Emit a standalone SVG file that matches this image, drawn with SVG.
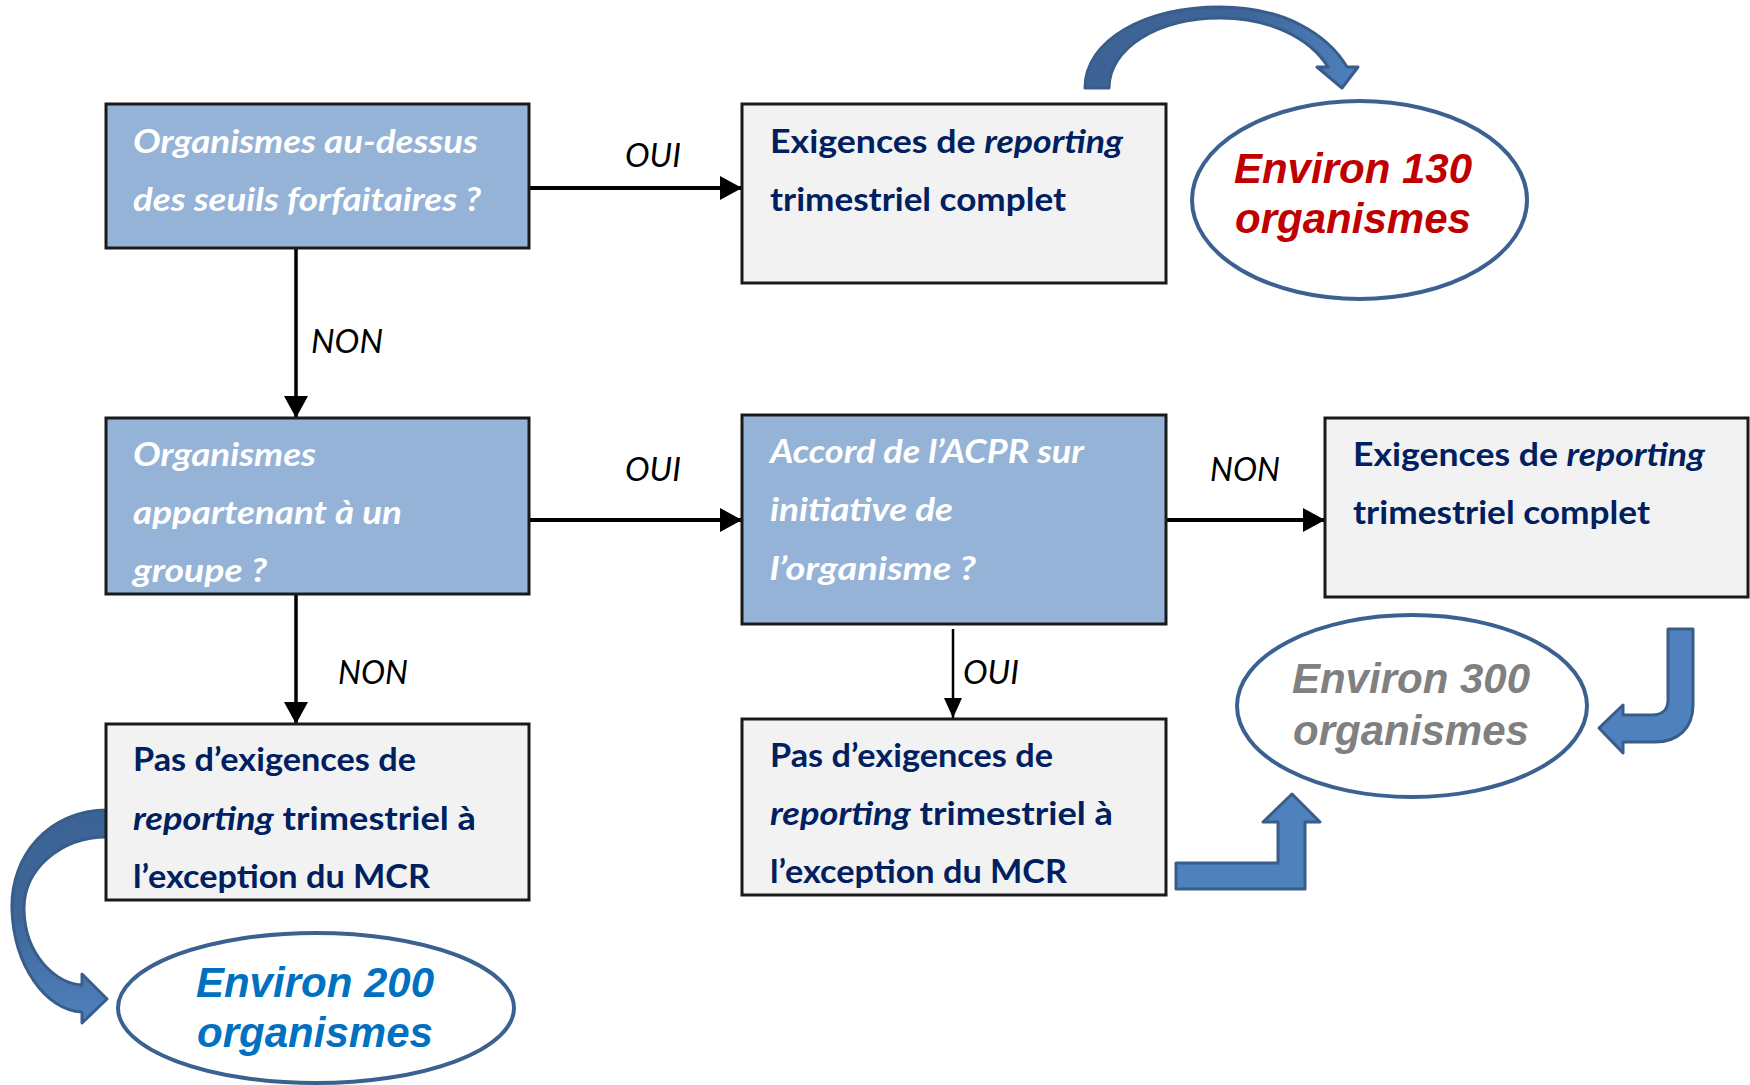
<svg xmlns="http://www.w3.org/2000/svg" width="1750" height="1085" viewBox="0 0 1750 1085">
<style>
.q{fill:#95B3D7;stroke:#1a1a1a;stroke-width:3}
.r{fill:#F2F2F2;stroke:#1a1a1a;stroke-width:3}
.qt{font-family:Lato,"Liberation Sans",sans-serif;font-size:33px;font-weight:bold;font-style:italic;fill:#FFFFFF}
.rt{font-family:Lato,"Liberation Sans",sans-serif;font-size:33px;font-weight:bold;fill:#002060}
.it{font-style:italic}
.lbl{font-family:Lato,"Liberation Sans",sans-serif;font-size:33px;font-style:italic;fill:#000}
.ell{fill:#FFFFFF;stroke:#3B6190;stroke-width:4}
.et{font-family:"Liberation Sans",Arial,sans-serif;font-size:42px;font-weight:bold;font-style:italic;text-anchor:middle}
.conn{stroke:#000;fill:none}
.blk{fill:#4F81BD;stroke:#385D8A;stroke-width:3;stroke-linejoin:round}
.blkg{stroke:#385D8A;stroke-width:3;stroke-linejoin:round}
</style>
<defs>
<marker id="ah" markerUnits="userSpaceOnUse" markerWidth="22" markerHeight="24" viewBox="0 0 22 24" refX="22" refY="12" orient="auto">
<path d="M0,0 L22,12 L0,24 Z" fill="#000"/>
</marker>
<marker id="ahs" markerUnits="userSpaceOnUse" markerWidth="20" markerHeight="20" viewBox="0 0 20 20" refX="20" refY="10" orient="auto">
<path d="M0,1 L20,10 L0,19 Z" fill="#000"/>
</marker>
<linearGradient id="gTop" x1="0" y1="0" x2="1" y2="0">
<stop offset="0" stop-color="#3D6396"/>
<stop offset="0.6" stop-color="#3F6699"/>
<stop offset="1" stop-color="#4F81BD"/>
</linearGradient>
<linearGradient id="gLeft" x1="0" y1="0" x2="0" y2="1">
<stop offset="0" stop-color="#3D6396"/>
<stop offset="0.5" stop-color="#3F6699"/>
<stop offset="1" stop-color="#4F81BD"/>
</linearGradient>
</defs>

<g id="connectors">
<line class="conn" x1="529" y1="188" x2="742" y2="188" stroke-width="4" marker-end="url(#ah)"/>
<line class="conn" x1="296" y1="248" x2="296" y2="418" stroke-width="3.5" marker-end="url(#ah)"/>
<line class="conn" x1="529" y1="520" x2="742" y2="520" stroke-width="4" marker-end="url(#ah)"/>
<line class="conn" x1="296" y1="594" x2="296" y2="724" stroke-width="3.5" marker-end="url(#ah)"/>
<line class="conn" x1="1166" y1="520" x2="1325" y2="520" stroke-width="4" marker-end="url(#ah)"/>
<line class="conn" x1="953" y1="629" x2="953" y2="718" stroke-width="2.5" marker-end="url(#ahs)"/>
<text class="lbl" x="625" y="167" textLength="56" lengthAdjust="spacingAndGlyphs">OUI</text>
<text class="lbl" x="311" y="353" textLength="72" lengthAdjust="spacingAndGlyphs">NON</text>
<text class="lbl" x="625" y="481" textLength="56" lengthAdjust="spacingAndGlyphs">OUI</text>
<text class="lbl" x="338" y="684" textLength="70" lengthAdjust="spacingAndGlyphs">NON</text>
<text class="lbl" x="1210" y="481" textLength="70" lengthAdjust="spacingAndGlyphs">NON</text>
<text class="lbl" x="963" y="684" textLength="56" lengthAdjust="spacingAndGlyphs">OUI</text>
</g>

<g id="block-arrows">
<path class="blkg" fill="url(#gTop)" d="M1085,88 C1085,40 1145,7 1220,7 C1285,7 1328,35 1347,67 L1358,67 L1342,88 L1317,67 L1328,67 C1310,38 1270,18 1220,18 C1158,18 1109,48 1109,88 Z"/>
<path class="blkg" fill="url(#gLeft)" d="M107,810 C50,810 10,855 12,910 C14,965 45,1010 82,1012 L82,1023 L107,999 L82,974 L82,985 C55,983 25,955 24,910 C23,870 60,837 107,837 Z"/>
<path class="blk" d="M1176,863 L1278,863 L1278,822 L1263,822 L1292,794 L1320,822 L1305,822 L1305,889 L1176,889 Z"/>
<path class="blk" d="M1668,629 L1693,629 L1693,705 C1693,728 1678,742 1655,742 L1623,742 L1623,753 L1599,728 L1623,705 L1623,715 L1652,715 C1662,715 1668,710 1668,700 Z"/>
</g>

<g id="node-q1">
<rect class="q" x="106" y="104" width="423" height="144"/>
<text class="qt" x="133" y="153" textLength="345" lengthAdjust="spacingAndGlyphs">Organismes au-dessus</text>
<text class="qt" x="133" y="211" textLength="348" lengthAdjust="spacingAndGlyphs">des seuils forfaitaires ?</text>
</g>

<g id="node-r1">
<rect class="r" x="742" y="104" width="424" height="179"/>
<text class="rt" x="770" y="153" textLength="353" lengthAdjust="spacingAndGlyphs">Exigences de <tspan class="it">reporting</tspan></text>
<text class="rt" x="770" y="211" textLength="296" lengthAdjust="spacingAndGlyphs">trimestriel complet</text>
</g>

<g id="node-e130">
<ellipse class="ell" cx="1359.5" cy="200" rx="167.5" ry="99"/>
<text class="et" x="1353" y="183" fill="#C00000">Environ 130</text>
<text class="et" x="1353" y="233" fill="#C00000">organismes</text>
</g>

<g id="node-q2">
<rect class="q" x="106" y="418" width="423" height="176"/>
<text class="qt" x="133" y="466" textLength="183" lengthAdjust="spacingAndGlyphs">Organismes</text>
<text class="qt" x="133" y="524" textLength="269" lengthAdjust="spacingAndGlyphs">appartenant à un</text>
<text class="qt" x="133" y="582" textLength="134" lengthAdjust="spacingAndGlyphs">groupe ?</text>
</g>

<g id="node-q3">
<rect class="q" x="742" y="415" width="424" height="209"/>
<text class="qt" x="770" y="463" textLength="314" lengthAdjust="spacingAndGlyphs">Accord de l’ACPR sur</text>
<text class="qt" x="770" y="521" textLength="183" lengthAdjust="spacingAndGlyphs">initiative de</text>
<text class="qt" x="770" y="580" textLength="206" lengthAdjust="spacingAndGlyphs">l’organisme ?</text>
</g>

<g id="node-r2">
<rect class="r" x="1325" y="418" width="423" height="179"/>
<text class="rt" x="1353" y="466" textLength="352" lengthAdjust="spacingAndGlyphs">Exigences de <tspan class="it">reporting</tspan></text>
<text class="rt" x="1353" y="524" textLength="297" lengthAdjust="spacingAndGlyphs">trimestriel complet</text>
</g>

<g id="node-r3">
<rect class="r" x="106" y="724" width="423" height="176"/>
<text class="rt" x="133" y="771" textLength="283" lengthAdjust="spacingAndGlyphs">Pas d’exigences de</text>
<text class="rt" x="133" y="830" textLength="343" lengthAdjust="spacingAndGlyphs"><tspan class="it">reporting</tspan> trimestriel à</text>
<text class="rt" x="133" y="888" textLength="297" lengthAdjust="spacingAndGlyphs">l’exception du MCR</text>
</g>

<g id="node-r4">
<rect class="r" x="742" y="719" width="424" height="176"/>
<text class="rt" x="770" y="767" textLength="283" lengthAdjust="spacingAndGlyphs">Pas d’exigences de</text>
<text class="rt" x="770" y="825" textLength="343" lengthAdjust="spacingAndGlyphs"><tspan class="it">reporting</tspan> trimestriel à</text>
<text class="rt" x="770" y="883" textLength="297" lengthAdjust="spacingAndGlyphs">l’exception du MCR</text>
</g>

<g id="node-e300">
<ellipse class="ell" cx="1412" cy="706" rx="175" ry="91"/>
<text class="et" x="1411" y="693" fill="#808080">Environ 300</text>
<text class="et" x="1411" y="745" fill="#808080">organismes</text>
</g>

<g id="node-e200">
<ellipse class="ell" cx="316" cy="1008" rx="198" ry="75"/>
<text class="et" x="315" y="997" fill="#0070C0">Environ 200</text>
<text class="et" x="315" y="1047" fill="#0070C0">organismes</text>
</g>
</svg>
